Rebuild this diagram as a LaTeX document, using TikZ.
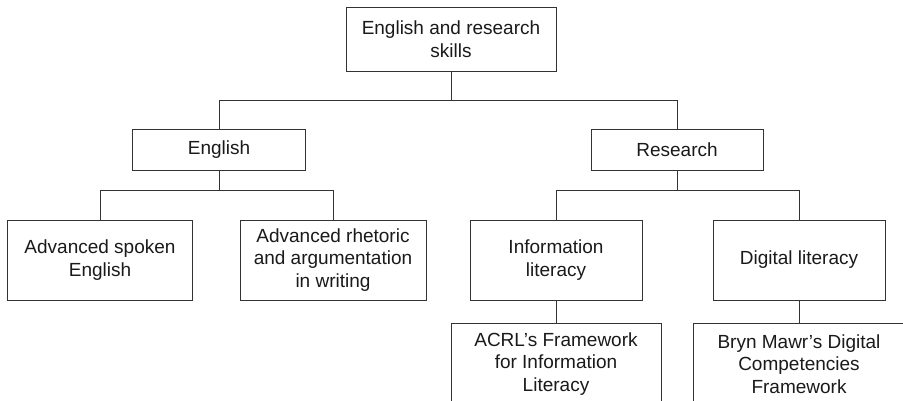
\documentclass[tikz,border=0pt]{standalone}
\usepackage{fontspec}
\setmainfont{Liberation Sans}
\definecolor{linec}{HTML}{333333}
\definecolor{textc}{HTML}{1A1A1A}
\begin{document}
\begin{tikzpicture}[x=1pt,y=-1pt,
  box/.style={draw=linec, line width=1pt, fill=white, align=center, inner sep=0pt,
    font=\fontsize{19}{22.5}\selectfont, text=textc},
  conn/.style={draw=linec, line width=1pt}]
\useasboundingbox (0,0) rectangle (903,400);
\clip (0,0) rectangle (903,400);
% level 0
\node[box, minimum width=210pt, minimum height=64pt] (top) at (451,39) {English and research\\skills};
% level 1
\node[box, minimum width=173pt, minimum height=41pt] (eng) at (219,149.5) {English};
\node[box, minimum width=172pt, minimum height=41pt] (res) at (677,149.5) {Research};
% level 2
\node[box, minimum width=185pt, minimum height=80pt] (spk) at (100,260) {Advanced spoken\\English};
\node[box, minimum width=186pt, minimum height=80pt] (rhe) at (333,260) {Advanced rhetoric\\and argumentation\\in writing};
\node[box, minimum width=172pt, minimum height=80pt] (inf) at (556,260) {Information\\literacy};
\node[box, minimum width=172pt, minimum height=80pt] (dig) at (799,260) {Digital literacy};
% level 3
\node[box, minimum width=210pt, minimum height=82pt] (acrl) at (556,364) {ACRL’s Framework\\for Information\\Literacy};
\node[box, minimum width=212pt, minimum height=82pt] (bryn) at (799,364) {Bryn Mawr’s Digital\\Competencies\\Framework};
% junctions
\coordinate (j0) at (451,100);
\coordinate (j1) at (219,190);
\coordinate (j2) at (677,190);
% connectors
\draw[conn] (top.south) -- (j0) -| (eng.north);
\draw[conn] (j0) -| (res.north);
\draw[conn] (eng.south) -- (j1) -| (spk.north);
\draw[conn] (j1) -| (rhe.north);
\draw[conn] (res.south) -- (j2) -| (inf.north);
\draw[conn] (j2) -| (dig.north);
\draw[conn] (inf.south) -- (acrl.north);
\draw[conn] (dig.south) -- (bryn.north);
\end{tikzpicture}
\end{document}
